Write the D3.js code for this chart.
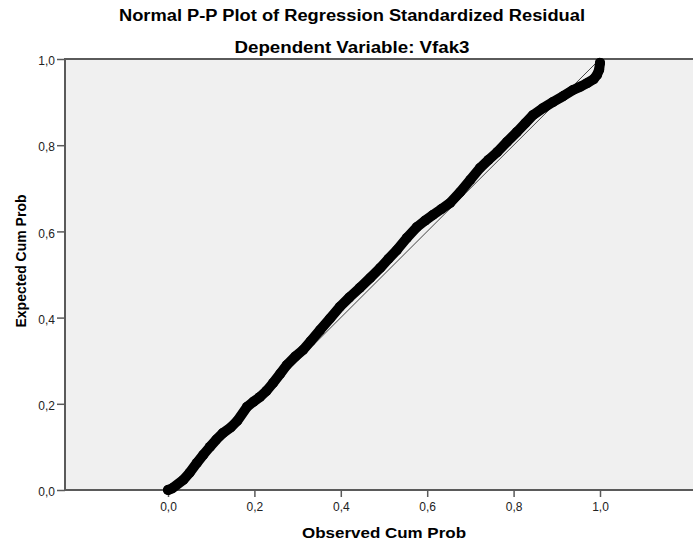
<!DOCTYPE html>
<html>
<head>
    <title>Normal P-P Plot</title>
    <script src="https://d3js.org/d3.v7.min.js"></script>
    <style>
        body { margin: 0; background: #fff; }
        text { font-family: Arial, "Liberation Sans", sans-serif; }
    </style>
</head>
<body>
<script>
// Observed vs expected cumulative probabilities
const observed = [0.000, 0.010, 0.035, 0.050, 0.067, 0.082, 0.097, 0.112, 0.127, 0.145,
    0.160, 0.183, 0.198, 0.213, 0.228, 0.243, 0.260, 0.275, 0.295, 0.3125,
    0.330, 0.352, 0.375, 0.398, 0.420, 0.444, 0.468, 0.491, 0.510, 0.530,
    0.553, 0.576, 0.595, 0.613, 0.633, 0.653, 0.676, 0.700, 0.722, 0.742,
    0.762, 0.785, 0.808, 0.827, 0.845, 0.868, 0.891, 0.915, 0.9375, 0.955,
    0.970, 0.985, 0.993, 0.998, 1.000];
const expected = [0.000, 0.004, 0.023, 0.040, 0.063, 0.082, 0.100, 0.117, 0.132, 0.145,
    0.160, 0.193, 0.205, 0.216, 0.230, 0.248, 0.270, 0.290, 0.310, 0.325,
    0.345, 0.371, 0.398, 0.425, 0.447, 0.469, 0.492, 0.515, 0.536, 0.557,
    0.585, 0.610, 0.625, 0.638, 0.652, 0.666, 0.691, 0.720, 0.747, 0.766,
    0.784, 0.808, 0.831, 0.851, 0.870, 0.886, 0.900, 0.914, 0.928, 0.936,
    0.944, 0.953, 0.963, 0.975, 0.991];

const tickValues = [0, 0.2, 0.4, 0.6, 0.8, 1.0];
const titleText = 'Normal P-P Plot of Regression Standardized Residual';
const subtitleText = 'Dependent Variable: Vfak3';
const xLabel = 'Observed Cum Prob';
const yLabel = 'Expected Cum Prob';

const width = 693;
const height = 548;
const frame = { left: 65, top: 59, bottom: 490 };

const svg = d3.select('body')
    .append('svg')
    .attr('width', width)
    .attr('height', height);

const x = d3.scaleLinear().domain([0, 1]).range([168, 600]);
const y = d3.scaleLinear().domain([0, 1]).range([frame.bottom, frame.top]);

const fmt = d => d3.format('.1f')(d).replace('.', ',');

// plot background + frame
svg.append('rect')
    .attr('x', frame.left)
    .attr('y', frame.top)
    .attr('width', width + 10 - frame.left)
    .attr('height', frame.bottom - frame.top)
    .attr('fill', '#f0f0f0')
    .attr('stroke', '#5a5a5a')
    .attr('stroke-width', 2);

// axes
const xAxis = svg.append('g')
    .attr('transform', `translate(0,${frame.bottom})`)
    .call(d3.axisBottom(x).tickValues(tickValues).tickFormat(fmt).tickSize(7).tickPadding(5));

const yAxis = svg.append('g')
    .attr('transform', `translate(${frame.left},0)`)
    .call(d3.axisLeft(y).tickValues(tickValues).tickFormat(fmt).tickSize(8).tickPadding(2));

[xAxis, yAxis].forEach(g => {
    g.select('.domain').remove();
    g.selectAll('.tick line').attr('stroke', '#5a5a5a').attr('stroke-width', 1.5);
    g.selectAll('.tick text')
        .attr('fill', '#222')
        .style('font-size', '12px')
        .style('font-family', 'Arial, "Liberation Sans", sans-serif');
});
yAxis.selectAll('.tick text').attr('dy', '0.47em');

// reference diagonal
svg.append('line')
    .attr('x1', x(0)).attr('y1', y(0))
    .attr('x2', x(1)).attr('y2', y(1))
    .attr('stroke', '#444')
    .attr('stroke-width', 1);

// observed points
const points = observed.map((o, i) => ({ o, e: expected[i] }));

svg.append('path')
    .datum(points)
    .attr('fill', 'none')
    .attr('stroke', '#000')
    .attr('stroke-width', 10)
    .attr('stroke-linejoin', 'round')
    .attr('stroke-linecap', 'round')
    .attr('d', d3.line().x(d => x(d.o)).y(d => y(d.e)));

svg.selectAll('circle.pt')
    .data(points)
    .enter()
    .append('circle')
    .attr('class', 'pt')
    .attr('cx', d => x(d.o))
    .attr('cy', d => y(d.e))
    .attr('r', 5)
    .attr('fill', '#000');

// titles
svg.append('text')
    .attr('x', 352)
    .attr('y', 21)
    .attr('text-anchor', 'middle')
    .attr('textLength', 466)
    .attr('lengthAdjust', 'spacingAndGlyphs')
    .style('font-size', '16px')
    .style('font-weight', 'bold')
    .text(titleText);

svg.append('text')
    .attr('x', 352)
    .attr('y', 53)
    .attr('text-anchor', 'middle')
    .attr('textLength', 235)
    .attr('lengthAdjust', 'spacingAndGlyphs')
    .style('font-size', '16px')
    .style('font-weight', 'bold')
    .text(subtitleText);

svg.append('text')
    .attr('x', 384)
    .attr('y', 538)
    .attr('text-anchor', 'middle')
    .attr('textLength', 164)
    .attr('lengthAdjust', 'spacingAndGlyphs')
    .style('font-size', '15px')
    .style('font-weight', 'bold')
    .text(xLabel);

svg.append('text')
    .attr('transform', 'translate(26,261) rotate(-90)')
    .attr('text-anchor', 'middle')
    .style('font-size', '14px')
    .style('font-weight', 'bold')
    .text(yLabel);
</script>
</body>
</html>
